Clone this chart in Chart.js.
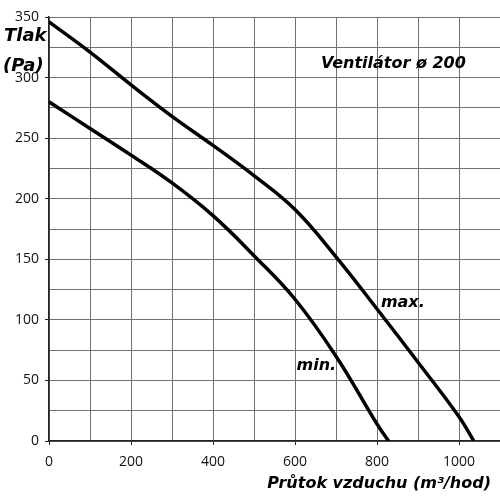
<!DOCTYPE html>
<html>
<head>
<meta charset="utf-8">
<script src="https://cdn.jsdelivr.net/npm/chart.js@4"></script>
<style>
    html, body { margin: 0; padding: 0; background: #fff; }
    #wrap { width: 500px; height: 500px; }
</style>
</head>
<body>
<div id="wrap"><canvas id="fanChart" width="500" height="500"></canvas></div>
<script>
// values (flow m3/hod, pressure Pa)
const flowMax = [0, 100, 200, 300, 400, 500, 600, 700, 800, 900, 1000, 1036];
const pressureMax = [346, 321, 294, 268, 244, 219, 191, 152, 109, 65, 20, 0];
const flowMin = [0, 100, 200, 300, 400, 500, 600, 700, 800, 828];
const pressureMin = [280, 258, 236, 213, 186, 153, 117, 70, 14, 0];

const xRange = [0, 1100];
const yRange = [0, 350];
const xLabelStep = 200;
const yLabelStep = 50;

const fontFamily = '"DejaVu Sans", sans-serif';

function toPoints(xs, ys) {
    return xs.map((x, i) => ({ x: x, y: ys[i] }));
}

const labelsPlugin = {
    id: 'fanLabels',
    afterDraw(chart) {
        const ctx = chart.ctx;
        const xs = chart.scales.x;
        const ys = chart.scales.y;
        ctx.save();
        ctx.fillStyle = '#000';
        ctx.textBaseline = 'middle';

        ctx.textAlign = 'center';
        ctx.font = 'italic bold 16px ' + fontFamily;
        ctx.fillText('Ventilátor ø 200', xs.getPixelForValue(840), ys.getPixelForValue(311));
        ctx.fillText('max.', xs.getPixelForValue(863), ys.getPixelForValue(114));
        ctx.fillText('min.', xs.getPixelForValue(652), ys.getPixelForValue(62));

        ctx.textAlign = 'left';
        ctx.font = 'italic bold 18px ' + fontFamily;
        ctx.fillText('Tlak', 4, 36);
        ctx.fillText('(Pa)', 3, 66);

        ctx.textAlign = 'right';
        ctx.font = 'italic bold 16px ' + fontFamily;
        ctx.fillText('Průtok vzduchu (m³/hod)', 491, 484);
        ctx.restore();
    }
};

new Chart(document.getElementById('fanChart'), {
    type: 'line',
    data: {
        datasets: [{
            label: 'max.',
            data: toPoints(flowMax, pressureMax),
            borderColor: '#000',
            borderWidth: 3.5,
            pointRadius: 0,
            tension: 0.4,
            fill: false
        }, {
            label: 'min.',
            data: toPoints(flowMin, pressureMin),
            borderColor: '#000',
            borderWidth: 3.5,
            pointRadius: 0,
            tension: 0.4,
            fill: false
        }]
    },
    options: {
        responsive: false,
        animation: false,
        layout: { padding: { top: 17, right: 0, bottom: 0, left: 0 } },
        plugins: {
            legend: { display: false },
            tooltip: { enabled: false }
        },
        scales: {
            x: {
                type: 'linear',
                min: xRange[0],
                max: xRange[1],
                afterFit: scale => { scale.height = 59; scale.paddingRight = 0; },
                ticks: {
                    stepSize: 100,
                    autoSkip: false,
                    maxRotation: 0,
                    padding: 9,
                    color: '#111',
                    font: { family: '"Open Sans", sans-serif', size: 14 },
                    callback: value => value % xLabelStep === 0 && value < xRange[1] ? value : ''
                },
                grid: {
                    color: '#707070',
                    lineWidth: 1,
                    tickLength: 4,
                    tickColor: c => c.tick && c.tick.value % xLabelStep === 0 && c.tick.value < xRange[1] ? '#222' : 'rgba(0,0,0,0)'
                },
                border: { color: '#222', width: 1.5 }
            },
            y: {
                min: yRange[0],
                max: yRange[1],
                afterFit: scale => { scale.width = 49; },
                ticks: {
                    stepSize: 25,
                    autoSkip: false,
                    padding: 6,
                    color: '#111',
                    font: { family: '"Open Sans", sans-serif', size: 14 },
                    callback: value => value % yLabelStep === 0 ? value : ''
                },
                grid: {
                    color: '#707070',
                    lineWidth: 1,
                    tickLength: 4,
                    tickColor: c => c.tick && c.tick.value % yLabelStep === 0 ? '#222' : 'rgba(0,0,0,0)'
                },
                border: { color: '#222', width: 1.5 }
            }
        }
    },
    plugins: [labelsPlugin]
});
</script>
</body>
</html>
